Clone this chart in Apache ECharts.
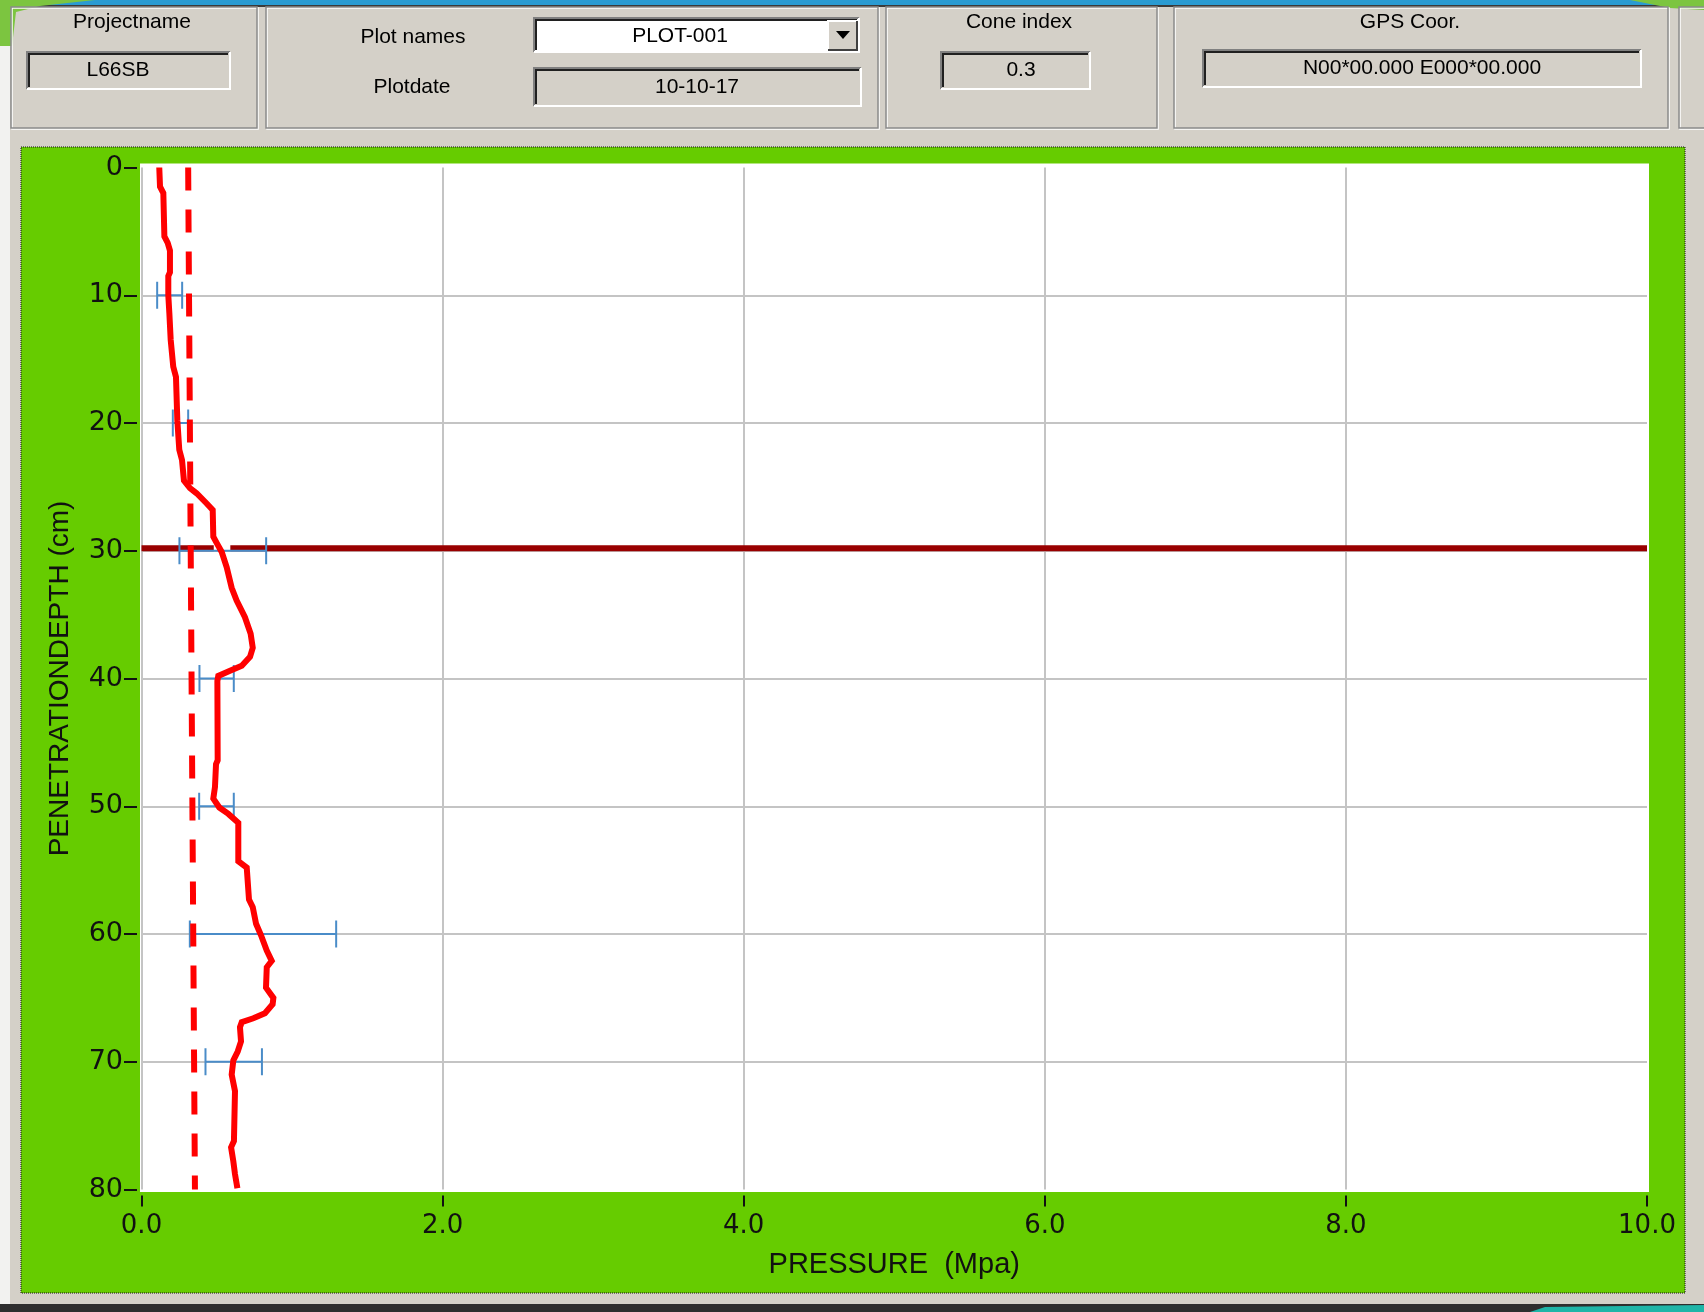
<!DOCTYPE html>
<html>
<head>
<meta charset="utf-8">
<script src="https://cdn.jsdelivr.net/npm/echarts@6/dist/echarts.min.js"></script>
<style>
  html, body { margin: 0; padding: 0; background: #d4d0c8; }
  #chart { width: 1704px; height: 1312px; }
</style>
</head>
<body>
<div id="chart"></div>
<script>
// Measured cone resistance along the penetration depth
const profileDepth = [0, 1.5, 2.0, 5.4, 5.9, 6.5, 8.2, 8.5, 10.0, 11.4, 13.5, 15.6, 16.4, 19.8, 22.1, 22.9, 24.5, 25.1, 25.5, 26.3,
  26.8, 28.9, 29.4, 30.1, 31.3, 32.9, 33.9, 35.2, 36.5, 37.6, 38.3, 39.0, 39.4, 39.8, 40.2, 46.4, 46.7, 48.5, 49.4, 50.1,
  50.6, 51.3, 54.3, 54.8, 57.3, 57.9, 59.2, 60.1, 61.3, 62.1, 62.6, 64.2, 65.0, 65.5, 66.2, 66.6, 66.9, 67.3, 68.4, 69.2,
  69.9, 71.0, 72.3, 76.2, 76.7, 77.8, 78.8, 79.9];
const profilePressure = [0.118, 0.123, 0.145, 0.152, 0.174, 0.189, 0.189, 0.178, 0.178, 0.185, 0.194, 0.211, 0.229, 0.238, 0.251, 0.269, 0.282, 0.322, 0.366, 0.433,
  0.473, 0.477, 0.50, 0.533, 0.566, 0.599, 0.632, 0.687, 0.725, 0.739, 0.721, 0.666, 0.588, 0.51, 0.504, 0.506, 0.495, 0.488, 0.477, 0.517,
  0.577, 0.643, 0.643, 0.699, 0.714, 0.739, 0.761, 0.794, 0.832, 0.865, 0.832, 0.827, 0.876, 0.871, 0.82, 0.743, 0.666, 0.654, 0.661, 0.639,
  0.61, 0.599, 0.621, 0.614, 0.595, 0.61, 0.621, 0.637];

// Dashed reference line (start and end of the run)
const refDepth = [0, 80];
const refPressure = [0.31, 0.355];

// Spread of the readings every 10 cm
const errDepth = [10, 20, 30, 40, 50, 60, 70];
const errLow = [0.104, 0.208, 0.252, 0.385, 0.383, 0.321, 0.425];
const errHigh = [0.27, 0.31, 0.828, 0.613, 0.613, 1.293, 0.80];

// Layer boundary marker
const layerDepth = 29.8;
const layerSpans = [[0, 0.48], [0.59, 10]];

// Axis ranges / ticks
const xTicks = [0, 2, 4, 6, 8, 10];
const yTicks = [0, 10, 20, 30, 40, 50, 60, 70, 80];

// Header fields
const fieldNames = ['Projectname', 'Plot names', 'Plotdate', 'Cone index', 'GPS Coor.'];
const fieldValues = ['L66SB', 'PLOT-001', '10-10-17', '0.3', 'N00*00.000 E000*00.000'];

const GRAY = '#d4d0c8';
const HEAD_FONT = '21px "Liberation Sans", Arial, sans-serif';

function etchedPanel(x, y, w, h) {
  return [
    { type: 'rect', shape: { x: x + 1, y: y + 1, width: w, height: h }, style: { fill: null, stroke: '#ffffff', lineWidth: 1.5 } },
    { type: 'rect', shape: { x: x, y: y, width: w, height: h }, style: { fill: null, stroke: '#8a8a8a', lineWidth: 1.5 } }
  ];
}
function sunkenBox(x, y, w, h, fill) {
  return [
    { type: 'rect', shape: { x: x, y: y, width: w, height: h }, style: { fill: fill, stroke: null } },
    { type: 'polyline', shape: { points: [[x, y + h], [x, y], [x + w, y]] }, style: { stroke: '#808080', lineWidth: 2, fill: null } },
    { type: 'polyline', shape: { points: [[x + 2, y + h - 2], [x + 2, y + 2], [x + w - 2, y + 2]] }, style: { stroke: '#202020', lineWidth: 2, fill: null } },
    { type: 'polyline', shape: { points: [[x, y + h], [x + w, y + h], [x + w, y]] }, style: { stroke: '#ffffff', lineWidth: 2, fill: null } }
  ];
}
function headText(str, cx, cy) {
  return { type: 'text', x: cx, y: cy, style: { text: str, font: HEAD_FONT, fill: '#000', align: 'center', verticalAlign: 'middle' } };
}

const bgElements = [].concat(
  // window strip along the top and bottom edges
  [{ type: 'rect', shape: { x: 0, y: 0, width: 1704, height: 5 }, style: { fill: '#2a9bd2' } },
   { type: 'rect', shape: { x: 0, y: 5, width: 1704, height: 2 }, style: { fill: '#3a3a3a' } },
   { type: 'polygon', shape: { points: [[0, 0], [95, 0], [40, 6], [16, 12], [12, 46], [0, 46]] }, style: { fill: '#7cc540' } },
   { type: 'polygon', shape: { points: [[1630, 0], [1704, 0], [1704, 10], [1670, 8]] }, style: { fill: '#7cc540' } },
   { type: 'rect', shape: { x: 0, y: 46, width: 10, height: 1258 }, style: { fill: '#f2f2f0' } },
   { type: 'rect', shape: { x: 0, y: 1304, width: 1704, height: 8 }, style: { fill: '#2e2e2e' } },
   { type: 'polygon', shape: { points: [[1530, 1312], [1545, 1307], [1704, 1305], [1704, 1312]] }, style: { fill: '#1fb5a8' } }],
  // header group boxes
  etchedPanel(11, 7, 246, 121),
  etchedPanel(266, 7, 612, 121),
  etchedPanel(886, 7, 271, 121),
  etchedPanel(1174, 7, 494, 121),
  etchedPanel(1679, 7, 40, 121),
  sunkenBox(27, 52, 203, 37, GRAY),
  sunkenBox(534, 18, 325, 34, '#ffffff'),
  sunkenBox(534, 68, 327, 38, GRAY),
  sunkenBox(941, 52, 149, 37, GRAY),
  sunkenBox(1203, 50, 438, 37, GRAY),
  // drop-down button
  [{ type: 'rect', shape: { x: 828, y: 21, width: 29, height: 29 }, style: { fill: GRAY, stroke: null } },
   { type: 'polyline', shape: { points: [[828, 50], [828, 21], [857, 21]] }, style: { stroke: '#ffffff', lineWidth: 2, fill: null } },
   { type: 'polyline', shape: { points: [[828, 50], [857, 50], [857, 21]] }, style: { stroke: '#404040', lineWidth: 2, fill: null } },
   { type: 'polygon', shape: { points: [[836, 31], [850, 31], [843, 39]] }, style: { fill: '#000' } }],
  [headText(fieldNames[0], 132, 22), headText(fieldValues[0], 118, 70),
   headText(fieldNames[1], 413, 37), headText(fieldValues[1], 680, 36),
   headText(fieldNames[2], 412, 87), headText(fieldValues[2], 697, 87),
   headText(fieldNames[3], 1019, 22), headText(fieldValues[3], 1021, 70),
   headText(fieldNames[4], 1410, 22), headText(fieldValues[4], 1422, 68)],
  // plot frame
  [{ type: 'rect', shape: { x: 21, y: 147, width: 1664, height: 1146 }, style: { fill: '#66cc00', stroke: '#111', lineWidth: 1, lineDash: [1, 1] } },
   { type: 'rect', shape: { x: 140, y: 163.5, width: 1509, height: 1028.5 }, style: { fill: '#ffffff' } }]
);
bgElements.forEach(function (e) { e.z = -10; e.silent = true; });

const chart = echarts.init(document.getElementById('chart'), null, { renderer: 'canvas' });

chart.setOption({
  backgroundColor: GRAY,
  animation: false,
  graphic: { elements: bgElements },
  grid: { left: 141.5, right: 57, top: 167.5, bottom: 122.5, containLabel: false },
  xAxis: {
    type: 'value',
    position: 'bottom',
    min: xTicks[0], max: xTicks[xTicks.length - 1], interval: 2,
    offset: 6,
    name: 'PRESSURE  (Mpa)',
    nameLocation: 'middle',
    nameGap: 55,
    nameTextStyle: { fontFamily: '"Liberation Sans", Arial, sans-serif', fontSize: 29, color: '#111' },
    axisLine: { show: false, onZero: false },
    axisTick: { show: true, inside: false, length: 11, lineStyle: { color: '#111', width: 2 } },
    axisLabel: { margin: 18, fontFamily: '"DejaVu Sans", sans-serif', fontSize: 26, color: '#111',
      formatter: function (v) { return v.toFixed(1); } },
    splitLine: { show: true, showMinLine: true, showMaxLine: false, lineStyle: { color: '#c4c4c4', width: 2 } }
  },
  yAxis: {
    type: 'value',
    position: 'left',
    inverse: true,
    min: yTicks[0], max: yTicks[yTicks.length - 1], interval: 10,
    offset: 4.5,
    name: 'PENETRATIONDEPTH (cm)',
    nameLocation: 'middle',
    nameGap: 63,
    nameTextStyle: { fontFamily: '"Liberation Sans", Arial, sans-serif', fontSize: 28, color: '#111' },
    axisLine: { show: false, onZero: false },
    axisTick: { show: true, inside: false, length: 13, lineStyle: { color: '#111', width: 2 } },
    axisLabel: { margin: 14, fontFamily: '"DejaVu Sans", sans-serif', fontSize: 27, color: '#111' },
    splitLine: { show: true, showMinLine: false, showMaxLine: false, lineStyle: { color: '#c4c4c4', width: 2 } }
  },
  series: [
    {
      name: 'layer',
      type: 'line',
      z: 3,
      silent: true,
      showSymbol: false,
      connectNulls: false,
      lineStyle: { color: '#990000', width: 6 },
      data: [[layerSpans[0][0], layerDepth], [layerSpans[0][1], layerDepth], null,
             [layerSpans[1][0], layerDepth], [layerSpans[1][1], layerDepth]]
    },
    {
      name: 'spread',
      type: 'custom',
      z: 4,
      silent: true,
      data: errDepth.map(function (d, i) { return [errLow[i], errHigh[i], d]; }),
      encode: { x: [0, 1], y: 2 },
      renderItem: function (params, api) {
        const a = api.coord([api.value(0), api.value(2)]);
        const b = api.coord([api.value(1), api.value(2)]);
        const h = 13.5;
        const st = { stroke: '#4a8cc8', lineWidth: 2 };
        return {
          type: 'group',
          children: [
            { type: 'line', shape: { x1: a[0], y1: a[1], x2: b[0], y2: b[1] }, style: st },
            { type: 'line', shape: { x1: a[0], y1: a[1] - h, x2: a[0], y2: a[1] + h }, style: st },
            { type: 'line', shape: { x1: b[0], y1: b[1] - h, x2: b[0], y2: b[1] + h }, style: st }
          ]
        };
      }
    },
    {
      name: 'reference',
      type: 'line',
      z: 5,
      silent: true,
      showSymbol: false,
      lineStyle: { color: '#ff0000', width: 6, type: [23, 19] },
      data: refDepth.map(function (d, i) { return [refPressure[i], d]; })
    },
    {
      name: 'pressure',
      type: 'line',
      z: 6,
      silent: true,
      showSymbol: false,
      lineStyle: { color: '#ff0000', width: 6, join: 'miter' },
      data: profileDepth.map(function (d, i) { return [profilePressure[i], d]; })
    }
  ]
});
</script>
</body>
</html>
